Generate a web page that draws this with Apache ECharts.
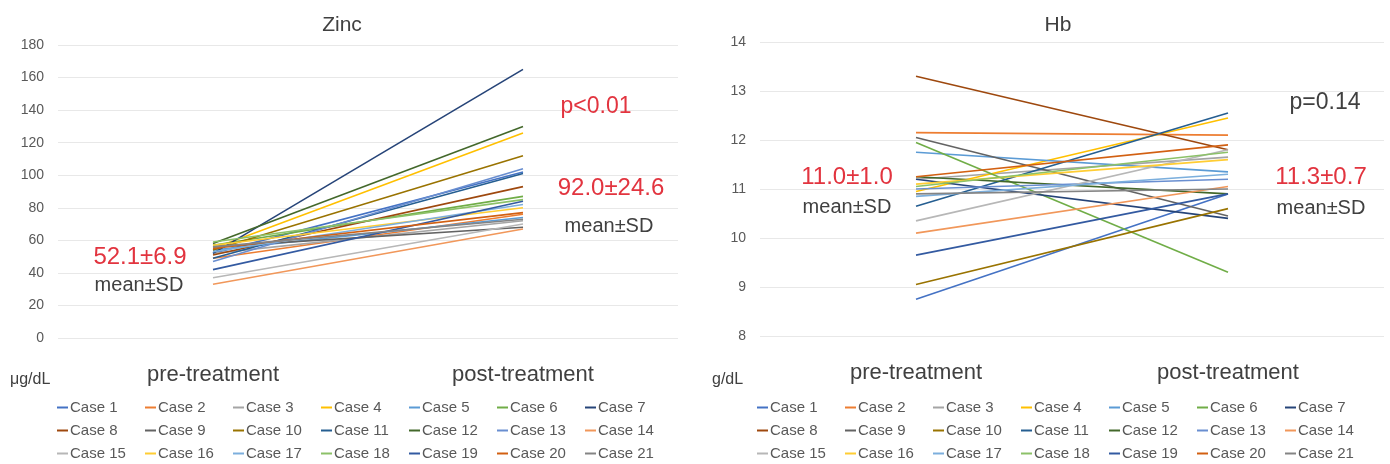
<!DOCTYPE html>
<html><head><meta charset="utf-8">
<script src="https://cdn.jsdelivr.net/npm/echarts@6/dist/echarts.min.js"></script>
<style>html,body{margin:0;padding:0;background:#fff}#c{width:1390px;height:464px}</style>
</head><body><div id="c"></div>
<script>
const cases = ['Case 1','Case 2','Case 3','Case 4','Case 5','Case 6','Case 7','Case 8','Case 9','Case 10','Case 11','Case 12','Case 13','Case 14','Case 15','Case 16','Case 17','Case 18','Case 19','Case 20','Case 21'];
const caseColors = ['#4472C4','#ED7D31','#A5A5A5','#FFC000','#5B9BD5','#70AD47','#264478','#9E480E','#636363','#997300','#255E91','#43682B','#698ED0','#F1975A','#B7B7B7','#FFCD33','#7CAFDD','#8CC168','#335AA1','#D26012','#848484'];
const periods = ['pre-treatment','post-treatment'];
const zincPre  = [52, 49, 52, 55, 54, 57, 52, 51, 56, 54, 49, 58, 47, 33, 37, 57, 53, 59, 42, 55, 56];
const zincPost = [102, 76, 72, 126, 74, 87, 165, 93, 68, 112, 101, 130, 104, 67, 70, 80, 82, 85, 84, 77, 73];
const hbPre  = [8.75, 12.15, 11.2, 10.95, 11.75, 11.95, 11.2, 13.3, 12.05, 9.05, 10.65, 11.25, 11.0, 10.1, 10.35, 11.1, 10.85, 11.05, 9.65, 11.25, 10.9];
const hbPost = [10.9, 12.1, 11.65, 12.45, 11.35, 9.3, 10.4, 11.8, 10.45, 10.6, 12.55, 10.9, 11.2, 11.05, 11.8, 11.6, 11.3, 11.75, 10.9, 11.9, 11.0];
const zincAxis = {min: 0, max: 180, interval: 20};
const hbAxis = {min: 8, max: 14, interval: 1};
const zincNotes = {title: 'Zinc', unit: 'μg/dL', pre: '52.1±6.9', post: '92.0±24.6', p: 'p<0.01'};
const hbNotes = {title: 'Hb', unit: 'g/dL', pre: '11.0±1.0', post: '11.3±0.7', p: 'p=0.14'};

const FONT = '"Liberation Sans", Arial, sans-serif';
const RED = '#E2343F';
const DARK = '#404040';

const chart = echarts.init(document.getElementById('c'), null, {renderer: 'canvas'});

function mkSeries(idx, pre, post) {
  return cases.map((name, i) => ({
    name, type: 'line', xAxisIndex: idx, yAxisIndex: idx,
    data: [pre[i], post[i]], symbol: 'none',
    lineStyle: {width: 1.6, color: caseColors[i]}, itemStyle: {color: caseColors[i]},
    emphasis: {disabled: true}, z: 2 + i
  }));
}
function yAx(idx, ax) {
  return {type: 'value', gridIndex: idx, min: ax.min, max: ax.max, interval: ax.interval,
    axisLine: {show: false}, axisTick: {show: false},
    axisLabel: {fontSize: 14, color: '#595959', fontFamily: FONT, margin: 14},
    splitLine: {lineStyle: {color: '#E8E8E8', width: 1}}};
}
function xAx(idx) {
  return {type: 'category', gridIndex: idx, data: periods, boundaryGap: true,
    axisLine: {show: false}, axisTick: {show: false},
    axisLabel: {fontSize: 22, color: DARK, fontFamily: FONT, margin: 26}};
}
// one legend per case so the columns line up like the reference
function legends(baseLeft) {
  return cases.map((name, i) => ({
    data: [name], left: baseLeft + (i % 7) * 88, top: 400 + Math.floor(i / 7) * 23,
    icon: 'rect', itemWidth: 11, itemHeight: 2, itemGap: 3,
    textStyle: {fontSize: 15, color: '#595959', fontFamily: FONT, padding: [0,0,0,-3]},
    selectedMode: false, padding: 0
  }));
}
function txt(x, y, text, size, color) {
  return {type: 'text', x, y, z: 100, style: {text, fontSize: size, fill: color, fontFamily: FONT, textAlign: 'center', textVerticalAlign: 'middle'}};
}

chart.setOption({
  animation: false,
  color: caseColors,
  grid: [
    {left: 58, top: 45, width: 620, height: 293},
    {left: 760, top: 42, width: 624, height: 294}
  ],
  xAxis: [xAx(0), xAx(1)],
  yAxis: [yAx(0, zincAxis), yAx(1, hbAxis)],
  legend: [...legends(57), ...legends(757)],
  series: [...mkSeries(0, zincPre, zincPost), ...mkSeries(1, hbPre, hbPost)],
  graphic: [
    txt(342, 25, zincNotes.title, 21, DARK),
    txt(1058, 25, hbNotes.title, 21, DARK),
    {type: 'text', x: 10, y: 380, z: 100, style: {text: zincNotes.unit, fontSize: 16, fill: DARK, fontFamily: FONT, textVerticalAlign: 'middle'}},
    {type: 'text', x: 712, y: 380, z: 100, style: {text: hbNotes.unit, fontSize: 16, fill: DARK, fontFamily: FONT, textVerticalAlign: 'middle'}},
    txt(140, 257, zincNotes.pre, 24, RED),
    txt(139, 285, 'mean±SD', 20, DARK),
    txt(596, 107, zincNotes.p, 23, RED),
    txt(611, 188, zincNotes.post, 24, RED),
    txt(609, 226, 'mean±SD', 20, DARK),
    txt(847, 177, hbNotes.pre, 24, RED),
    txt(847, 207, 'mean±SD', 20, DARK),
    txt(1325, 103, hbNotes.p, 23, DARK),
    txt(1321, 177, hbNotes.post, 24, RED),
    txt(1321, 208, 'mean±SD', 20, DARK)
  ]
});
</script></body></html>
